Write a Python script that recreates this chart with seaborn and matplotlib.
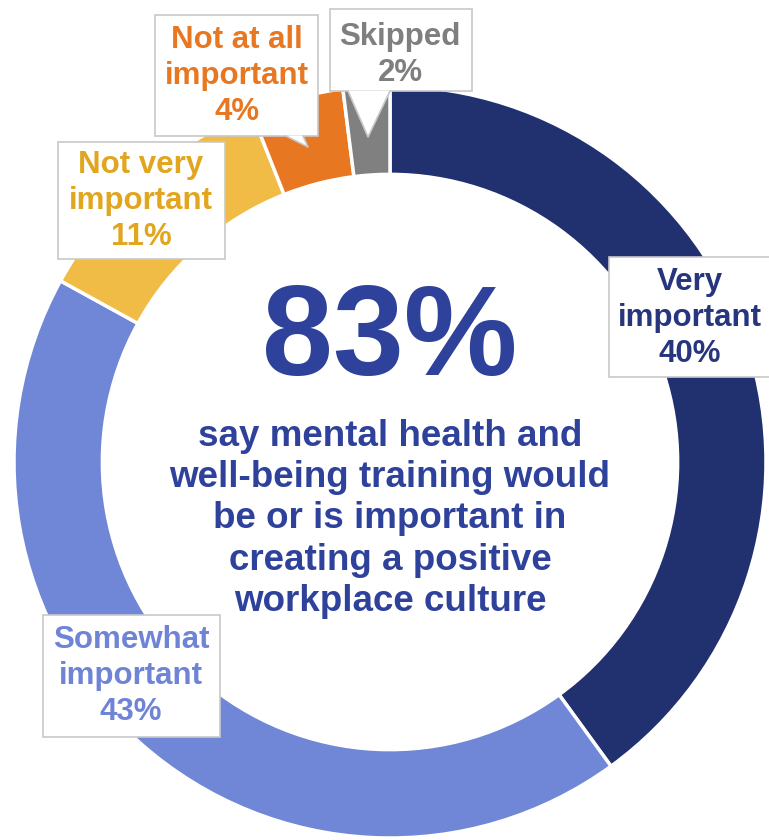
import matplotlib
matplotlib.use("Agg")
import matplotlib.pyplot as plt
from matplotlib.patches import Rectangle, Polygon
import seaborn as sns

categories = ["Very important", "Somewhat important", "Not very important",
              "Not at all important", "Skipped"]
values = [40, 43, 11, 4, 2]
label_lines = ["Very\nimportant\n40%", "Somewhat\nimportant\n43%",
               "Not very\nimportant\n11%", "Not at all\nimportant\n4%",
               "Skipped\n2%"]
headline = "83%"
subtitle = ("say mental health and\nwell-being training would\n"
            "be or is important in\ncreating a positive\nworkplace culture")

wedge_colors = ["#21306F", "#7086D6", "#F0BC46", "#E87722", "#808080"]
text_colors = ["#26357E", "#6F84D6", "#E2A51E", "#E87722", "#7F7F7F"]

sns.set_theme(style="white")
plt.rcParams['font.family'] = ['Liberation Sans', 'DejaVu Sans']

W, H = 769, 840
fig = plt.figure(figsize=(W / 100, H / 100), dpi=100)
ax = fig.add_axes([0, 0, 1, 1])

def Y(py):
    return H - py

cx, cy, R = 390, Y(462), 376
ax.pie(values, colors=wedge_colors, startangle=90, counterclock=False,
       center=(cx, cy), radius=R, frame=True,
       wedgeprops=dict(width=R * 0.235, edgecolor="white", linewidth=2.5))
ax.set_xlim(0, W)
ax.set_ylim(0, H)
ax.set_aspect("equal")
ax.axis("off")

# callout boxes (px coords: left, top, right, bottom), text centre
boxes = [
    ((609, 257, 772, 377), (690, 318)),
    ((43, 615, 220, 737), (131, 676)),
    ((58, 142, 225, 259), (141, 201)),
    ((155, 15, 318, 136), (237, 76)),
    ((330, 9, 472, 91), (400, 55)),
]
edge = "#C8C8C8"
for i, ((l, t, r, b), (tx, ty)) in enumerate(boxes):
    ax.add_patch(Rectangle((l, Y(b)), r - l, b - t, facecolor="white",
                           edgecolor=edge, linewidth=1.2, zorder=5))
    ax.text(tx, Y(ty), label_lines[i], ha="center", va="center",
            fontsize=22.5, fontweight="bold", color=text_colors[i],
            linespacing=1.27, zorder=6)

# speech-bubble pointers
ptr_skip = [(348, 90.5), (390, 90.5), (368, 137)]
ax.add_patch(Polygon([(x, Y(y)) for x, y in ptr_skip], closed=True,
                     facecolor="white", edgecolor="none", zorder=5))
ax.plot([348, 368, 390], [Y(91), Y(137), Y(91)], color=edge, lw=1.2, zorder=5)
ptr_na = [(286, 135.5), (303, 135.5), (308, 147)]
ax.add_patch(Polygon([(x, Y(y)) for x, y in ptr_na], closed=True,
                     facecolor="white", edgecolor="none", zorder=5))
ax.plot([286, 308, 303], [Y(136), Y(147), Y(136)], color=edge, lw=1.2, zorder=5)

ax.text(390, Y(342), headline, ha="center", va="center", fontsize=92,
        fontweight="bold", color="#2E419B")
ax.text(390, Y(519), subtitle, ha="center", va="center", fontsize=26.5,
        fontweight="bold", color="#2E419B", linespacing=1.24)

fig.savefig("out.png", dpi=100)
